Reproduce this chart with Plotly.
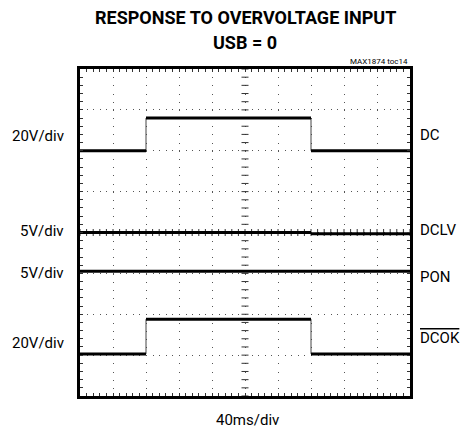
import numpy as np
import plotly.graph_objects as go

# ---- data (screen divisions: x 0..10 @ 40ms/div, y 0..8 from bottom) ----
time_div   = [0, 2, 2, 7, 7, 10]
dc_level   = [6.0, 6.0, 6.8, 6.8, 6.0, 6.0]
dclv_level = [4.0, 4.0, 4.0, 4.0, 3.97, 3.97]
pon_level  = [3.05, 3.05, 3.05, 3.05, 3.05, 3.05]
dcok_level = [1.03, 1.03, 1.88, 1.88, 1.03, 1.03]

left_labels  = ["20V/div", "5V/div", "5V/div", "20V/div"]
right_labels = ["DC", "DCLV", "PON", "DCOK"]

title_line1 = "RESPONSE TO OVERVOLTAGE INPUT"
title_line2 = "USB = 0"
toc_label   = "MAX1874 toc14"
x_label     = "40ms/div"

FONT = "Roboto, Liberation Sans, sans-serif"

fig = go.Figure()

def horiz_segments(xs, ys):
    hx, hy = [], []
    for i in range(0, len(xs) - 1, 2):
        hx += [xs[i], xs[i + 1], None]
        hy += [ys[i], ys[i + 1], None]
    return hx, hy

# center crosshair tick marks
minor = np.round(np.arange(0, 10.0001, 0.2), 3)
minor_y = np.round(np.arange(0, 8.0001, 0.2), 3)
fig.add_trace(go.Scatter(x=minor, y=[4] * len(minor), mode="markers",
                         marker=dict(symbol="line-ns-open", size=5, color="#333",
                                     line=dict(width=1, color="#333")),
                         hoverinfo="skip", showlegend=False))
fig.add_trace(go.Scatter(x=[5] * len(minor_y), y=minor_y, mode="markers",
                         marker=dict(symbol="line-ew-open", size=5, color="#333",
                                     line=dict(width=1, color="#333")),
                         hoverinfo="skip", showlegend=False))

for lev in (dc_level, dclv_level, pon_level, dcok_level):
    fig.add_trace(go.Scatter(x=time_div, y=lev, mode="lines",
                             line=dict(color="#444", width=1),
                             hoverinfo="skip", showlegend=False))
    hx, hy = horiz_segments(time_div, lev)
    fig.add_trace(go.Scatter(x=hx, y=hy, mode="lines",
                             line=dict(color="#000", width=3),
                             hoverinfo="skip", showlegend=False))

axis_common = dict(
    showline=True, linewidth=3, linecolor="black", mirror="ticks",
    ticks="inside", ticklen=3, tickwidth=1, tickcolor="#333",
    showticklabels=False, zeroline=False, showgrid=True,
    gridcolor="#555", gridwidth=1, fixedrange=True,
)
fig.update_xaxes(range=[0, 10], dtick=1, tick0=0,
                 griddash="1px,7.18px",
                 minor=dict(dtick=0.2, ticks="inside", ticklen=3,
                            tickcolor="#333", showgrid=False),
                 **axis_common)
fig.update_yaxes(range=[0, 8], dtick=1, tick0=0,
                 griddash="1px,5.6px",
                 minor=dict(dtick=0.2, ticks="inside", ticklen=3,
                            tickcolor="#333", showgrid=False),
                 **axis_common)

H = 327.0
def py(pix):  # pixel y -> paper y
    return (396 - pix) / H

ann = []
ann.append(dict(text="<b>" + title_line1 + "</b>", x=0.5, y=py(17.5),
                font=dict(family=FONT, size=18, weight=900, color="black")))
ann.append(dict(text="<b>" + title_line2 + "</b>", x=0.5, y=py(42.5),
                font=dict(family=FONT, size=18, weight=900, color="black")))
ann.append(dict(text=toc_label, x=1.0, xanchor="right", y=py(62),
                font=dict(family=FONT, size=8, color="black")))
ann.append(dict(text=x_label, x=(247 - 80) / 330, y=py(420),
                font=dict(family=FONT, size=15, color="black")))

left_y = [136, 231, 273, 343]
right_y = [135, 230, 277, 338]
for t, yy in zip(left_labels, left_y):
    ann.append(dict(text=t, x=(66 - 80) / 330, xanchor="right", y=py(yy),
                    font=dict(family=FONT, size=15, color="black")))
for t, yy in zip(right_labels, right_y):
    if t == "DCOK":
        t = "<span style='text-decoration:overline'>" + t + "</span>"
    ann.append(dict(text=t, x=(418 - 80) / 330, xanchor="left", y=py(yy),
                    font=dict(family=FONT, size=15, color="black")))

for a in ann:
    a.update(xref="paper", yref="paper", showarrow=False, yanchor="middle")
    a.setdefault("xanchor", "center")

fig.update_layout(
    width=461, height=430,
    margin=dict(l=80, r=51, t=69, b=34),
    paper_bgcolor="white", plot_bgcolor="white",
    annotations=ann, showlegend=False,
)

fig.write_html("out.html", config={"displayModeBar": False},
               post_script="document.body.style.margin='0';")
